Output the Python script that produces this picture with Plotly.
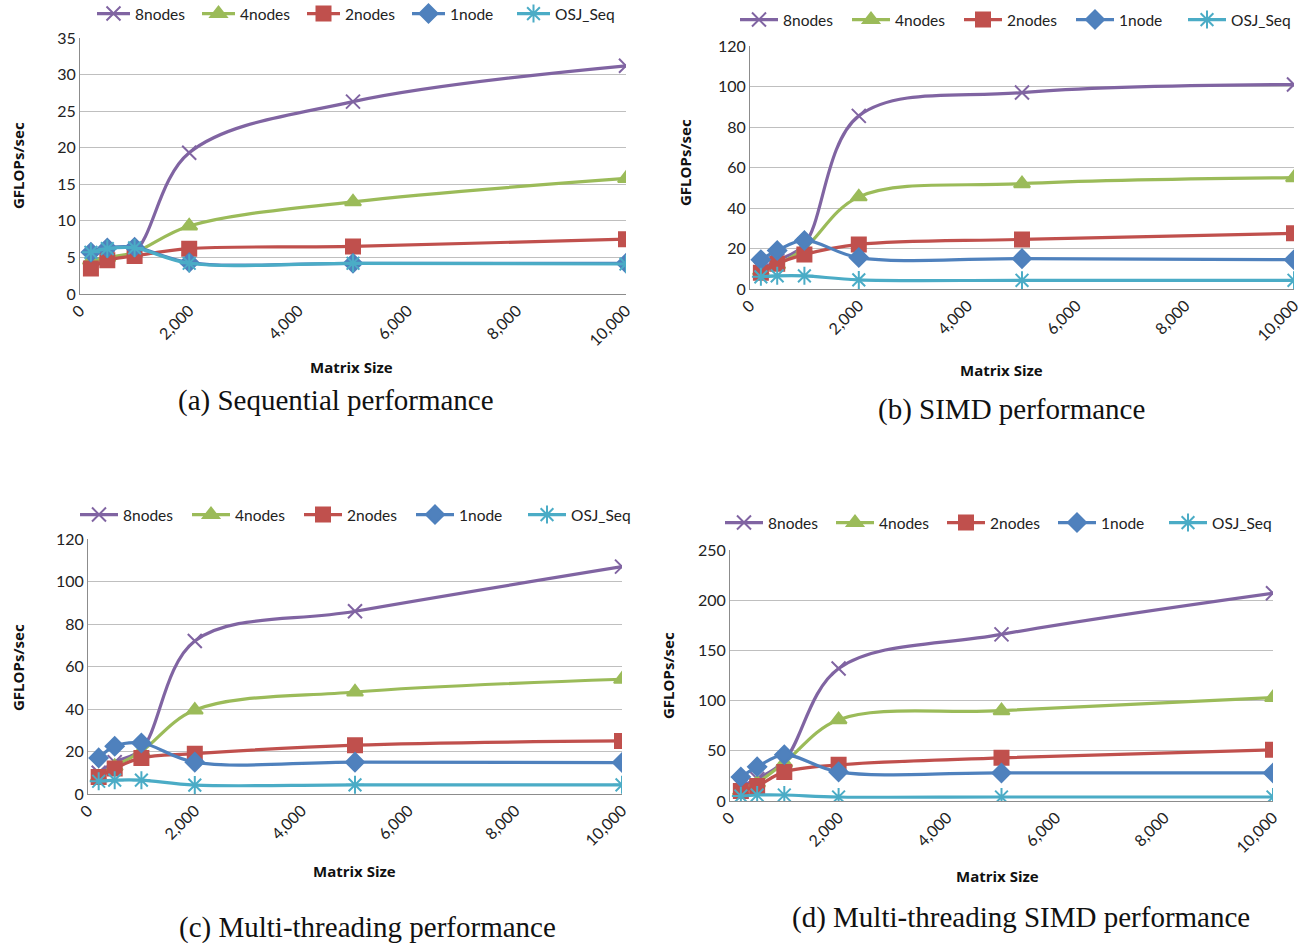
import plotly.graph_objects as go

W, H = 1308, 943

sizes = [200, 500, 1000, 2000, 5000, 10000]
series_names = ["8nodes", "4nodes", "2nodes", "1node", "OSJ_Seq"]
series_colors = ["#8064A2", "#9BBB59", "#C0504D", "#4F81BD", "#4BACC6"]
series_symbols = ["x-thin-open", "triangle-up", "square", "diamond", "asterisk-open"]
series_msize = [14, 14, 14, 14, 15]

# (a) Sequential
seq_8nodes = [4.6, 5.0, 5.8, 19.3, 26.3, 31.2]
seq_4nodes = [4.6, 5.0, 5.7, 9.3, 12.6, 15.8]
seq_2nodes = [3.5, 4.6, 5.2, 6.2, 6.5, 7.5]
seq_1node = [5.7, 6.3, 6.4, 4.3, 4.2, 4.2]
seq_osj = [5.7, 6.2, 6.3, 4.2, 4.2, 4.1]

# (b) SIMD
simd_8nodes = [10, 14, 22, 85.5, 97, 101]
simd_4nodes = [9, 12, 20, 45.5, 52, 55]
simd_2nodes = [8, 12.5, 17, 22, 24.5, 27.5]
simd_1node = [14.5, 19, 24, 15.5, 15, 14.5]
simd_osj = [6, 6.5, 6.5, 4.5, 4.3, 4.3]

# (c) Multi-threading
mt_8nodes = [10, 15, 21, 72, 86, 107]
mt_4nodes = [8, 13, 20, 39.5, 48, 54]
mt_2nodes = [8, 12, 17, 19, 23, 25]
mt_1node = [17, 22.5, 24, 15, 15, 14.8]
mt_osj = [6, 6.5, 6.5, 4.2, 4.3, 4.3]

# (d) Multi-threading SIMD
mts_8nodes = [15, 22, 40, 132, 166, 207]
mts_4nodes = [10, 18, 38, 81, 90, 103]
mts_2nodes = [10, 15, 29, 36, 43, 51]
mts_1node = [24, 34, 46, 29, 28, 28]
mts_osj = [5, 6, 6, 4, 4, 4]

x_ticks = [0, 2000, 4000, 6000, 8000, 10000]
x_ticklabels = ["0", "2,000", "4,000", "6,000", "8,000", "10,000"]

panels = [
    dict(data=[seq_8nodes, seq_4nodes, seq_2nodes, seq_1node, seq_osj],
         ymax=35, dtick=5, box=(80, 626, 38, 294),
         legend=(92, 14), item=33, entry=57, ytitle=(18, 166), xtitle=(351, 367),
         caption="(a) Sequential performance", cap=(336, 400)),
    dict(data=[simd_8nodes, simd_4nodes, simd_2nodes, simd_1node, simd_osj],
         ymax=120, dtick=20, box=(750, 1294, 46, 289),
         legend=(735, 20), item=38, entry=59, ytitle=(685, 162), xtitle=(1001, 370),
         caption="(b) SIMD performance", cap=(1012, 410)),
    dict(data=[mt_8nodes, mt_4nodes, mt_2nodes, mt_1node, mt_osj],
         ymax=120, dtick=20, box=(88, 622, 539, 794),
         legend=(75, 515), item=38, entry=59, ytitle=(18, 668), xtitle=(354, 871),
         caption="(c) Multi-threading performance", cap=(367, 927)),
    dict(data=[mts_8nodes, mts_4nodes, mts_2nodes, mts_1node, mts_osj],
         ymax=250, dtick=50, box=(730, 1273, 550, 801),
         legend=(720, 523), item=38, entry=58, ytitle=(668, 676), xtitle=(997, 876),
         caption="(d) Multi-threading SIMD performance", cap=(1021, 917)),
]

fig = go.Figure()
layout = dict(width=W, height=H,
              margin=dict(l=0, r=0, t=0, b=0, autoexpand=False),
              paper_bgcolor="white", plot_bgcolor="white", annotations=[])

tick_font = dict(family="Lato", size=16, color="#222")
legend_font = dict(family="Lato", size=15.5, color="#222")
title_font = dict(family="Open Sans", size=15, color="#111")
cap_font = dict(family="Liberation Serif", size=29, color="#111")

for i, p in enumerate(panels):
    k = "" if i == 0 else str(i + 1)
    x0, x1, y0, y1 = p["box"]
    lg = "legend" + k
    for s in range(5):
        fig.add_trace(go.Scatter(
            x=sizes, y=p["data"][s], name=series_names[s],
            mode="lines+markers",
            line=dict(color=series_colors[s], width=3.2, shape="spline", smoothing=1.0),
            marker=dict(symbol=series_symbols[s], size=series_msize[s],
                        color=series_colors[s],
                        line=dict(color=series_colors[s], width=2)),
            xaxis="x" + k, yaxis="y" + k, legend=lg,
        ))
    layout["xaxis" + k] = dict(
        domain=[x0 / W, x1 / W], anchor="y" + k, range=[0, 10000],
        tickvals=x_ticks, ticktext=x_ticklabels, tickangle=-45,
        tickfont=tick_font, showgrid=False, showline=True, automargin=False,
        linecolor="#8C8C8C", linewidth=1, ticks="", zeroline=False,
    )
    layout["yaxis" + k] = dict(
        domain=[1 - y1 / H, 1 - y0 / H], anchor="x" + k,
        range=[0, p["ymax"]], dtick=p["dtick"], tickfont=tick_font,
        showgrid=True, gridcolor="#BFBFBF", gridwidth=1, automargin=False,
        showline=True, linecolor="#8C8C8C", linewidth=1, ticks="",
        zeroline=False,
    )
    lx, ly = p["legend"]
    layout[lg] = dict(
        orientation="h", x=lx / W, y=1 - ly / H, xanchor="left", yanchor="middle",
        font=legend_font,
        bgcolor="rgba(0,0,0,0)", itemwidth=p["item"], entrywidth=p["entry"],
        entrywidthmode="pixels", tracegroupgap=0,
    )
    tx, ty = p["ytitle"]
    layout["annotations"].append(dict(
        text="<b>GFLOPs/sec</b>", x=tx / W, y=1 - ty / H, xref="paper", yref="paper",
        showarrow=False, textangle=-90, font=title_font,
        xanchor="center", yanchor="middle"))
    tx, ty = p["xtitle"]
    layout["annotations"].append(dict(
        text="<b>Matrix Size</b>", x=tx / W, y=1 - ty / H, xref="paper", yref="paper",
        showarrow=False, font=title_font, xanchor="center", yanchor="middle"))
    cx, cy = p["cap"]
    layout["annotations"].append(dict(
        text=p["caption"], x=cx / W, y=1 - cy / H, xref="paper", yref="paper",
        showarrow=False, font=cap_font, xanchor="center", yanchor="middle"))

fig.update_layout(**layout)
fig.write_html("out.html")
